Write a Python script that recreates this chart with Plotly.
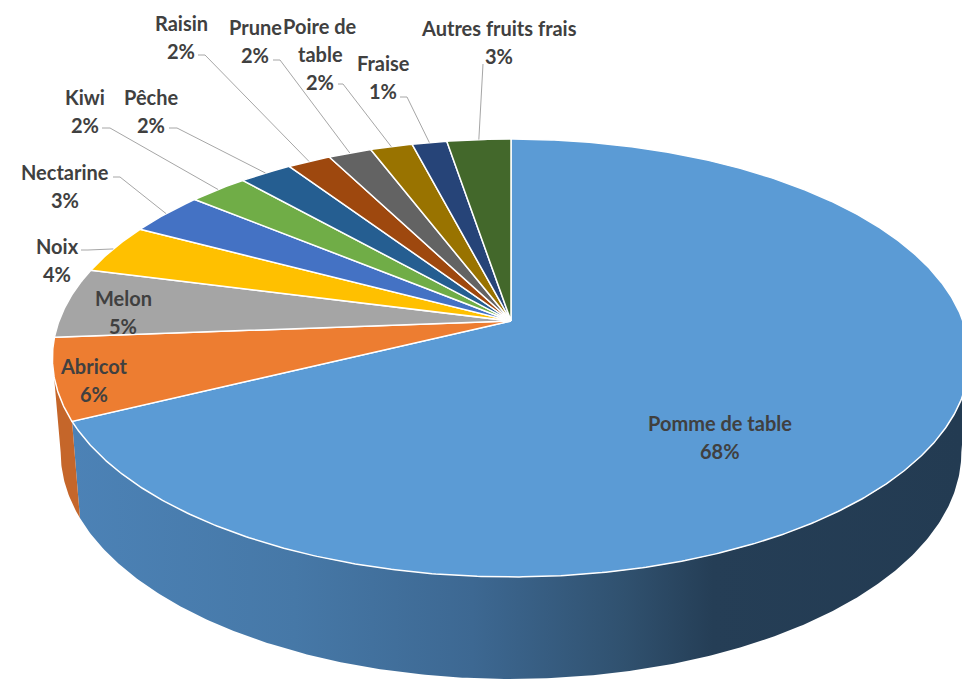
import numpy as np
import plotly.graph_objects as go

# ---------------- data ----------------
categories = ["Pomme de table", "Abricot", "Melon", "Noix", "Nectarine", "Kiwi",
              "Pêche", "Raisin", "Prune", "Poire de table", "Fraise", "Autres fruits frais"]
values = [67.8, 6.0, 5.2, 3.7, 3.2, 2.45, 2.2, 1.8, 1.8, 1.75, 1.45, 2.65]
label_lines = [["Pomme de table"], ["Abricot"], ["Melon"], ["Noix"], ["Nectarine"], ["Kiwi"],
               ["Pêche"], ["Raisin"], ["Prune"], ["Poire de", "table"], ["Fraise"],
               ["Autres fruits frais"]]

# ---------------- style / layout ----------------
colors = ["#5B9BD5", "#ED7D31", "#A5A5A5", "#FFC000", "#4472C4", "#70AD47",
          "#255E91", "#9E480E", "#636363", "#997300", "#264478", "#43682B"]
side_colors = ["#4B81B5", "#C5662A", "#8A8A8A", "#D9A300", "#3A61A8", "#5F933C",
               "#1F4F7B", "#863D0C", "#545454", "#826200", "#203A66", "#395824"]
pomme_side_scale = [[0.0, "#4C82B6"], [0.25, "#4678A7"], [0.45, "#3D6892"],
                    [0.62, "#30516F"], [0.72, "#253E56"], [1.0, "#233B52"]]
label_pos = [(720, 423), (94, 366), (123, 298), (57, 246), (65, 172), (85, 97),
             (151, 97), (181, 23), (255, 27), (320, 26), (383, 63), (499, 28)]
leader_start = [None, None, None, (81, 250), (113, 177), (102, 128), (169, 128),
                (198, 55), (273, 60), (338, 84), (400, 97), (483, 64)]
leader_elbow = [None, None, None, (88, 250), (120, 177), (110, 128), (177, 128),
                (205, 55), (280, 60), (343, 84), (407, 97), (483, 64)]
TEXT_COLOR = "#404040"
FONT = "Lato"
FS = 20
LINE_H = 28

# projection of a tilted disc with perspective (screen pixels)
CX, CY = 511.0, 321.0
R = 452.0
DP = 5.919
RA = 212.7
THICK = 93.0
BSCALE = 0.982


def top(phi):
    s, c = np.sin(phi), np.cos(phi)
    k = 1.0 / (1.0 + c / DP)
    return CX + R * s * k, CY - RA * c * k, k


def bottom(phi):
    x, y, k = top(phi)
    return CX + (x - CX) * BSCALE, y + THICK * np.sqrt(k)


total = float(sum(values))
bounds = np.concatenate([[0.0], np.cumsum(values) / total]) * 2 * np.pi
phi_l = np.arccos(-1.0 / DP)            # right silhouette
phi_r = 2 * np.pi - phi_l               # left silhouette

fig = go.Figure()

# ---- sides (front half only) ----
for i in range(len(values)):
    a0, a1 = max(bounds[i], phi_l), min(bounds[i + 1], phi_r)
    if a1 <= a0:
        continue
    t = np.linspace(a0, a1, max(int((a1 - a0) / np.radians(0.5)), 2))
    tx, ty, _ = top(t)
    bx, by = bottom(t[::-1])
    xs = np.concatenate([tx, bx, tx[:1]])
    ys = np.concatenate([ty, by, ty[:1]])
    kw = dict(fillcolor=side_colors[i])
    if i == 0:
        kw = dict(fillgradient=dict(type="horizontal", colorscale=pomme_side_scale,
                                    start=float(xs.min()), stop=962.0))
    fig.add_trace(go.Scatter(x=xs, y=ys, mode="lines", fill="toself",
                             line=dict(width=0, color="rgba(0,0,0,0)"),
                             hoverinfo="skip", showlegend=False, **kw))

# ---- top faces ----
for i in range(len(values)):
    a0, a1 = bounds[i], bounds[i + 1]
    t = np.linspace(a0, a1, max(int((a1 - a0) / np.radians(0.4)), 2))
    tx, ty, _ = top(t)
    xs = np.concatenate([[CX], tx, [CX]])
    ys = np.concatenate([[CY], ty, [CY]])
    fig.add_trace(go.Scatter(x=xs, y=ys, mode="lines", fill="toself",
                             fillcolor=colors[i], line=dict(width=1.5, color="white"),
                             hoverinfo="skip", showlegend=False, name=categories[i]))

# ---- leader lines ----
for i in range(len(values)):
    if leader_start[i] is None:
        continue
    mid = 0.5 * (bounds[i] + bounds[i + 1])
    ex, ey, _ = top(mid)
    xs = [leader_start[i][0], leader_elbow[i][0], float(ex)]
    ys = [leader_start[i][1], leader_elbow[i][1], float(ey)]
    fig.add_trace(go.Scatter(x=xs, y=ys, mode="lines",
                             line=dict(width=1, color="#A6A6A6"),
                             hoverinfo="skip", showlegend=False))

# ---- labels ----
annotations = []
for i in range(len(values)):
    lx, ly = label_pos[i]
    lines = label_lines[i] + [f"{round(values[i] / total * 100)}%"]
    for j, txt in enumerate(lines):
        annotations.append(dict(x=lx, y=ly + j * LINE_H, xref="x", yref="y",
                                text=f"<b>{txt}</b>", showarrow=False,
                                xanchor="center", yanchor="middle",
                                font=dict(family=FONT, size=FS, color=TEXT_COLOR)))

fig.update_layout(
    width=962, height=681, autosize=False,
    margin=dict(l=0, r=0, t=0, b=0, pad=0),
    paper_bgcolor="white", plot_bgcolor="white",
    xaxis=dict(range=[0, 962], visible=False, fixedrange=True),
    yaxis=dict(range=[681, 0], visible=False, fixedrange=True),
    annotations=annotations,
    showlegend=False,
)

fig.write_html("out.html", config={"displayModeBar": False},
               post_script="document.body.style.margin='0';")
